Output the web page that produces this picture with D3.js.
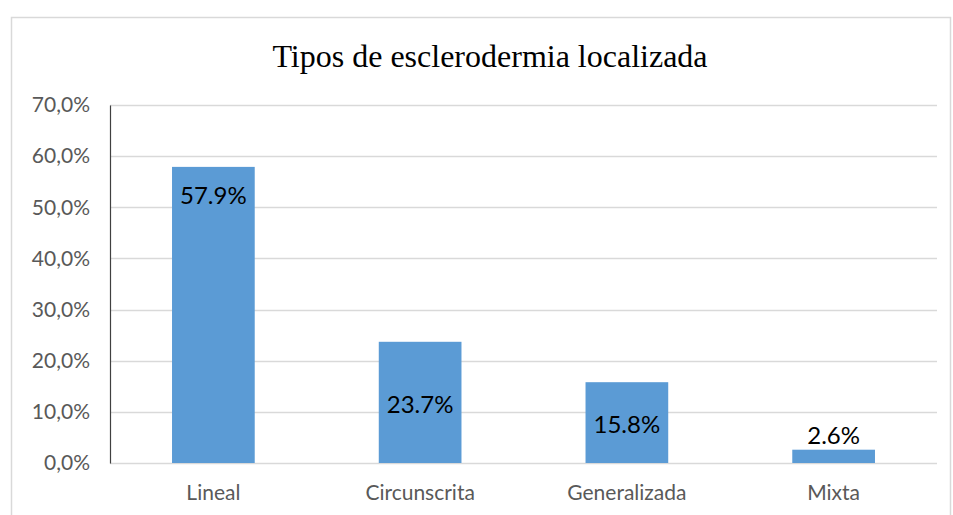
<!DOCTYPE html>
<html>
<head>
<meta charset="utf-8">
<script src="https://cdn.jsdelivr.net/npm/d3@7"></script>
<style>
body{margin:0;background:#fff;}
</style>
</head>
<body>
<script>
var categories=["Lineal","Circunscrita","Generalizada","Mixta"]
var values=[57.9,23.7,15.8,2.6]
var labels=["57.9%","23.7%","15.8%","2.6%"]
// where each data label sits, in axis units (labels were moved by hand in the original)
var labelAt=[52.2,11.5,7.6,5.3]
var ticks=[0,10,20,30,40,50,60,70]

var screen={width:953,height:515}
var margins={top:105,right:16,bottom:52,left:110}
var width=screen.width-margins.left-margins.right
var height=screen.height-margins.top-margins.bottom

var svg=d3.select("body").append("svg")
          .attr("width",screen.width)
          .attr("height",screen.height)

// chart frame
svg.append("path")
   .attr("d","M11.5,"+screen.height+"V17.5H950.5V"+screen.height)
   .attr("fill","none")
   .attr("stroke","#d9d9d9")
   .attr("stroke-width",1.5)

svg.append("text")
   .attr("x",490)
   .attr("y",67)
   .attr("text-anchor","middle")
   .attr("font-family","'Liberation Serif','Times New Roman',serif")
   .attr("font-size","32px")
   .attr("fill","#000")
   .text("Tipos de esclerodermia localizada")

var plotLand=svg.append("g")
                .attr("transform","translate("+margins.left+","+margins.top+")")

var x=d3.scaleBand().domain(categories).range([0,width]).paddingInner(0.6).paddingOuter(0.3)
var y=d3.scaleLinear().domain([0,70]).range([height,0])

// gridlines
plotLand.append("g")
        .selectAll("line")
        .data(ticks)
        .enter()
        .append("line")
        .attr("x1",0)
        .attr("x2",width)
        .attr("y1",function(d){return Math.round(y(d))+0.5})
        .attr("y2",function(d){return Math.round(y(d))+0.5})
        .attr("stroke","#d9d9d9")
        .attr("stroke-width",1.5)

var yAxis=plotLand.append("g")
                  .call(d3.axisLeft(y).tickValues(ticks).tickSize(0).tickPadding(20)
                        .tickFormat(function(d){return d.toFixed(1).replace(".",",")+"%"}))
yAxis.select(".domain").attr("stroke","#404040").attr("stroke-width",1.2)
yAxis.selectAll("text")
     .attr("font-family","Lato,'Open Sans',sans-serif")
     .attr("font-size","21px")
     .attr("fill","#595959")

plotLand.selectAll("rect.bar")
        .data(values)
        .enter()
        .append("rect")
        .classed("bar",true)
        .attr("x",function(d,i){return x(categories[i])})
        .attr("y",function(d){return y(d)})
        .attr("width",x.bandwidth())
        .attr("height",function(d){return height-y(d)})
        .attr("fill","#5b9bd5")

plotLand.selectAll("text.lbl")
        .data(labels)
        .enter()
        .append("text")
        .classed("lbl",true)
        .attr("x",function(d,i){return x(categories[i])+x.bandwidth()/2})
        .attr("y",function(d,i){return y(labelAt[i])})
        .attr("dy","0.35em")
        .attr("text-anchor","middle")
        .attr("font-family","Lato,'Open Sans',sans-serif")
        .attr("font-size","24px")
        .attr("fill","#000")
        .text(function(d){return d})

var xAxis=plotLand.append("g")
                  .attr("transform","translate(0,"+height+")")
                  .call(d3.axisBottom(x).tickSize(0).tickPadding(22))
xAxis.select(".domain").remove()
xAxis.selectAll("text")
     .attr("font-family","Lato,'Open Sans',sans-serif")
     .attr("font-size","21px")
     .attr("fill","#595959")
</script>
</body>
</html>
